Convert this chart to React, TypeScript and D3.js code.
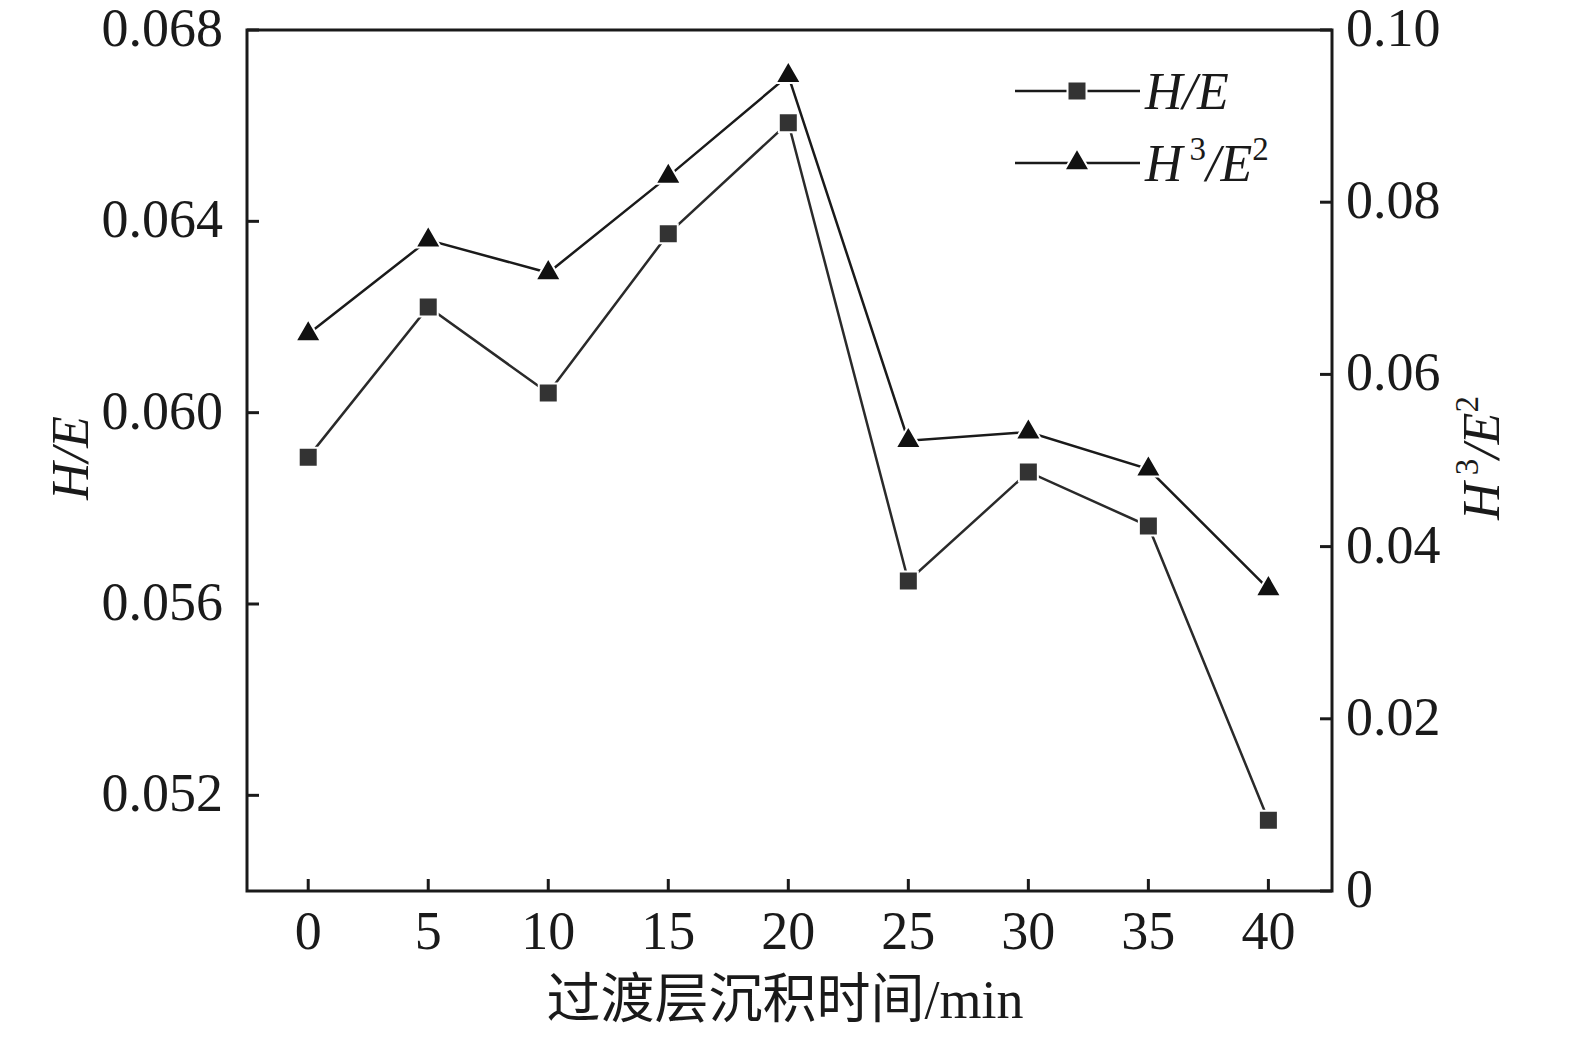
import React, { useEffect, useRef } from "react";
import * as d3 from "d3";

// deposition time of the transition layer (min)
const times = [0, 5, 10, 15, 20, 25, 30, 35, 40];
const heValues = [0.05907, 0.06221, 0.06041, 0.06374, 0.06606, 0.05648, 0.05876, 0.05763, 0.05148];
const h3e2Values = [0.0647, 0.0756, 0.0718, 0.083, 0.0947, 0.0523, 0.0533, 0.049, 0.0351];

const leftTicks = [0.052, 0.056, 0.06, 0.064, 0.068];
const rightTicks = [0, 0.02, 0.04, 0.06, 0.08, 0.1];
const xTicks = [0, 5, 10, 15, 20, 25, 30, 35, 40];

const W = 1575;
const H = 1039;
const margin = { top: 30, right: 243, bottom: 148, left: 247 };
const serif = "'Liberation Serif', 'Times New Roman', serif";
const cjk = "'Liberation Serif', 'Noto Sans CJK SC', serif";

export default function App() {
  const ref = useRef<SVGSVGElement>(null);

  useEffect(() => {
    const svg = d3.select(ref.current);
    svg.selectAll("*").remove();

    const x0 = margin.left;
    const x1 = W - margin.right;
    const y0 = H - margin.bottom;
    const y1 = margin.top;

    const x = d3.scaleLinear().domain([-2.55, 42.65]).range([x0, x1]);
    const yL = d3.scaleLinear().domain([0.05, 0.068]).range([y0, y1]);
    const yR = d3.scaleLinear().domain([0, 0.1]).range([y0, y1]);

    const g = svg.append("g");

    // frame
    g.append("rect")
      .attr("x", x0)
      .attr("y", y1)
      .attr("width", x1 - x0)
      .attr("height", y0 - y1)
      .attr("fill", "none")
      .attr("stroke", "#1a1a1a")
      .attr("stroke-width", 3);

    // inward ticks
    const tl = 12;
    g.append("g")
      .selectAll("line")
      .data(xTicks)
      .join("line")
      .attr("x1", (d) => x(d))
      .attr("x2", (d) => x(d))
      .attr("y1", y0)
      .attr("y2", y0 - tl)
      .attr("stroke", "#1a1a1a")
      .attr("stroke-width", 3);

    g.append("g")
      .selectAll("line")
      .data(leftTicks)
      .join("line")
      .attr("x1", x0)
      .attr("x2", x0 + tl)
      .attr("y1", (d) => yL(d))
      .attr("y2", (d) => yL(d))
      .attr("stroke", "#1a1a1a")
      .attr("stroke-width", 3);

    g.append("g")
      .selectAll("line")
      .data(rightTicks)
      .join("line")
      .attr("x1", x1)
      .attr("x2", x1 - tl)
      .attr("y1", (d) => yR(d))
      .attr("y2", (d) => yR(d))
      .attr("stroke", "#1a1a1a")
      .attr("stroke-width", 3);

    // tick labels
    const fs = 54;
    g.append("g")
      .selectAll("text")
      .data(xTicks)
      .join("text")
      .attr("x", (d) => x(d))
      .attr("y", 949)
      .attr("text-anchor", "middle")
      .attr("font-family", serif)
      .attr("font-size", fs)
      .attr("fill", "#1a1a1a")
      .text((d) => d);

    g.append("g")
      .selectAll("text")
      .data(leftTicks)
      .join("text")
      .attr("x", 223)
      .attr("y", (d) => yL(d) + 16)
      .attr("text-anchor", "end")
      .attr("font-family", serif)
      .attr("font-size", fs)
      .attr("fill", "#1a1a1a")
      .text((d) => d3.format(".3f")(d));

    g.append("g")
      .selectAll("text")
      .data(rightTicks)
      .join("text")
      .attr("x", 1346)
      .attr("y", (d) => yR(d) + 16)
      .attr("text-anchor", "start")
      .attr("font-family", serif)
      .attr("font-size", fs)
      .attr("fill", "#1a1a1a")
      .text((d) => (d === 0 ? "0" : d3.format(".2f")(d)));

    // axis titles
    g.append("text")
      .attr("x", 785)
      .attr("y", 1018)
      .attr("text-anchor", "middle")
      .attr("font-family", cjk)
      .attr("font-size", 54)
      .attr("fill", "#1a1a1a")
      .text("过渡层沉积时间/min");

    g.append("text")
      .attr("transform", "translate(88,458) rotate(-90)")
      .attr("text-anchor", "middle")
      .attr("font-family", serif)
      .attr("font-size", 52)
      .attr("font-style", "italic")
      .attr("fill", "#1a1a1a")
      .text("H/E");

    const rightTitle = g
      .append("text")
      .attr("transform", "translate(1499,458) rotate(-90)")
      .attr("text-anchor", "middle")
      .attr("font-family", serif)
      .attr("font-size", 52)
      .attr("fill", "#1a1a1a");
    const h3e2Label = (t: d3.Selection<SVGTextElement, unknown, null, undefined>) => {
      t.append("tspan").attr("font-style", "italic").text("H");
      t.append("tspan").attr("font-size", 33).attr("dx", 7).attr("dy", -21).text("3");
      t.append("tspan").attr("font-style", "italic").attr("dy", 21).text("/E");
      t.append("tspan").attr("font-size", 33).attr("dy", -21).text("2");
    };
    h3e2Label(rightTitle);

    // series
    const lineHE = d3
      .line<number>()
      .x((_, i) => x(times[i]))
      .y((d) => yL(d));
    const lineH3 = d3
      .line<number>()
      .x((_, i) => x(times[i]))
      .y((d) => yR(d));

    g.append("path")
      .attr("d", lineH3(h3e2Values))
      .attr("fill", "none")
      .attr("stroke", "#1a1a1a")
      .attr("stroke-width", 2.5);

    g.append("path")
      .attr("d", lineHE(heValues))
      .attr("fill", "none")
      .attr("stroke", "#2a2a2a")
      .attr("stroke-width", 2.5);

    const sq = d3.symbol(d3.symbolSquare, 361);
    const tri = d3.symbol(d3.symbolTriangle, 280);

    g.append("g")
      .selectAll("path")
      .data(h3e2Values)
      .join("path")
      .attr("d", tri)
      .attr("transform", (d, i) => `translate(${x(times[i])},${yR(d)})`)
      .attr("fill", "#111")
      .attr("stroke", "#fff")
      .attr("stroke-width", 2);

    g.append("g")
      .selectAll("path")
      .data(heValues)
      .join("path")
      .attr("d", sq)
      .attr("transform", (d, i) => `translate(${x(times[i])},${yL(d)})`)
      .attr("fill", "#333")
      .attr("stroke", "#fff")
      .attr("stroke-width", 2);

    // legend
    const lg = g.append("g");
    const rows = [
      { y: 91, sym: sq, fill: "#333" },
      { y: 163, sym: tri, fill: "#111" },
    ];
    rows.forEach((r) => {
      lg.append("line")
        .attr("x1", 1015)
        .attr("x2", 1140)
        .attr("y1", r.y)
        .attr("y2", r.y)
        .attr("stroke", "#1a1a1a")
        .attr("stroke-width", 2.5);
      lg.append("path")
        .attr("d", r.sym)
        .attr("transform", `translate(1077,${r.y})`)
        .attr("fill", r.fill)
        .attr("stroke", "#fff")
        .attr("stroke-width", 2);
    });
    lg.append("text")
      .attr("x", 1145)
      .attr("y", 109)
      .attr("font-family", serif)
      .attr("font-size", 52)
      .attr("font-style", "italic")
      .attr("fill", "#1a1a1a")
      .text("H/E");
    const lt = lg
      .append("text")
      .attr("x", 1145)
      .attr("y", 181)
      .attr("font-family", serif)
      .attr("font-size", 52)
      .attr("fill", "#1a1a1a");
    h3e2Label(lt);
  }, []);

  return (
    <svg
      ref={ref}
      width={W}
      height={H}
      style={{ position: "absolute", left: 0, top: 0, background: "#fff" }}
    />
  );
}
